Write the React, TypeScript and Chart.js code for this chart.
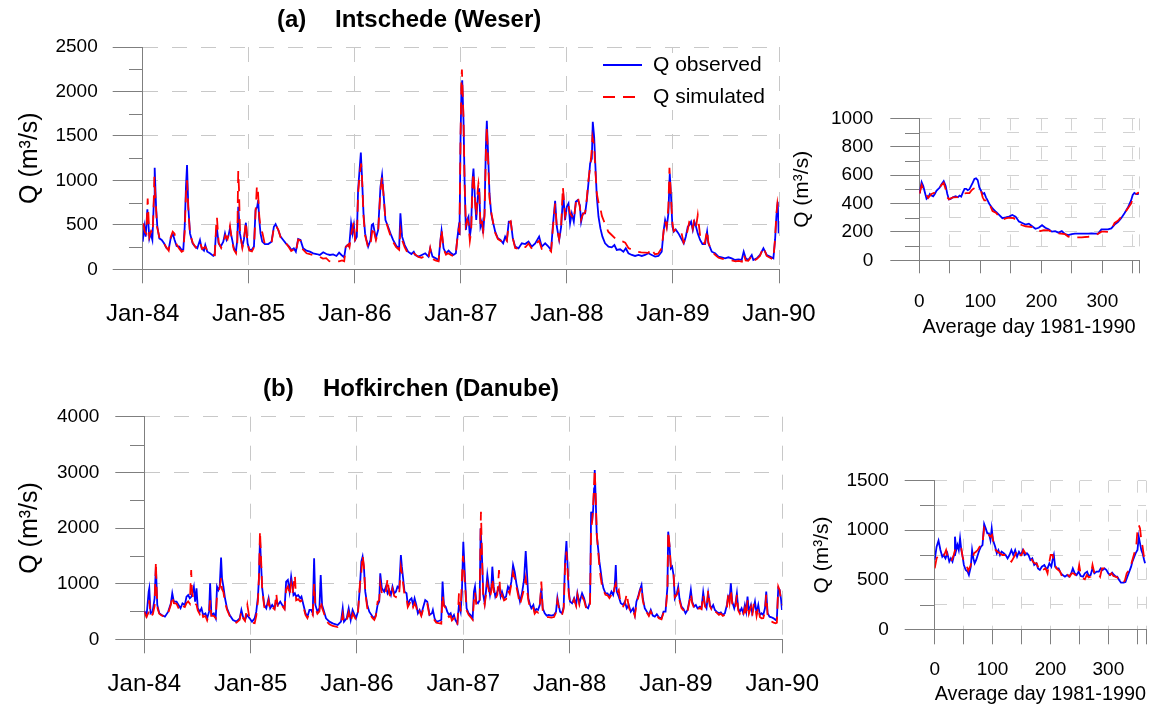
import React, { useEffect, useRef } from 'react';
import { Chart, registerables } from 'chart.js';

Chart.register(...registerables);

// ---------------- DATA ----------------
const yearLabels = ['Jan-84', 'Jan-85', 'Jan-86', 'Jan-87', 'Jan-88', 'Jan-89', 'Jan-90'];

// [years since Jan-84, discharge m3/s]
const weserObs: [number, number][] = [
  [0.000,310],[0.016,480],[0.028,367],[0.044,674],[0.063,348],[0.075,404],[0.091,330],[0.107,816],[0.113,1142],[0.126,704],[0.138,479],[0.157,348],[0.179,330],[0.201,292],[0.226,236],[0.245,225],[0.264,348],[0.283,404],[0.301,330],[0.320,262],[0.345,255],[0.367,217],[0.383,225],[0.396,479],[0.408,928],[0.418,1172],[0.430,704],[0.446,404],[0.471,292],[0.493,255],[0.515,236],[0.540,330],[0.556,236],[0.578,210],[0.590,273],[0.609,198],[0.634,180],[0.666,150],[0.678,161],[0.691,404],[0.700,460],[0.716,292],[0.735,255],[0.760,311],[0.776,404],[0.791,330],[0.807,367],[0.823,460],[0.841,348],[0.860,236],[0.879,198],[0.892,330],[0.901,704],[0.917,404],[0.939,255],[0.954,330],[0.973,524],[0.989,292],
  [1.005,225],[1.027,217],[1.049,255],[1.064,666],[1.080,704],[1.089,779],[1.099,554],[1.111,404],[1.127,311],[1.152,284],[1.184,284],[1.215,311],[1.237,479],[1.253,509],[1.278,442],[1.300,367],[1.325,330],[1.350,292],[1.381,255],[1.403,217],[1.425,236],[1.444,198],[1.466,341],[1.488,330],[1.513,236],[1.545,210],[1.576,198],[1.608,180],[1.639,172],[1.670,161],[1.702,191],[1.733,172],[1.765,161],[1.796,168],[1.827,150],[1.852,187],[1.874,161],[1.900,135],[1.915,255],[1.931,273],[1.947,255],[1.965,517],[1.978,404],[1.991,498],
  [2.003,330],[2.019,367],[2.031,891],[2.047,1153],[2.057,1314],[2.069,1003],[2.082,629],[2.097,404],[2.110,330],[2.126,255],[2.148,330],[2.160,498],[2.173,510],[2.198,348],[2.220,442],[2.242,928],[2.257,1059],[2.273,816],[2.289,554],[2.314,479],[2.336,404],[2.361,330],[2.392,262],[2.418,236],[2.430,629],[2.446,367],[2.471,273],[2.502,198],[2.534,172],[2.556,198],[2.570,161],[2.601,142],[2.632,161],[2.664,180],[2.695,142],[2.711,236],[2.733,142],[2.764,123],[2.790,105],[2.808,330],[2.818,434],[2.837,236],[2.859,180],[2.884,210],[2.909,180],[2.931,161],[2.953,180],[2.965,330],[2.978,460],[2.987,386],[2.997,1452],
  [3.006,2051],[3.013,2126],[3.025,1677],[3.035,1003],[3.047,442],[3.060,554],[3.072,591],[3.085,367],[3.097,479],[3.110,1003],[3.119,1134],[3.132,816],[3.145,554],[3.160,816],[3.173,910],[3.185,479],[3.198,535],[3.210,404],[3.223,629],[3.236,1377],[3.245,1669],[3.258,1265],[3.270,853],[3.286,629],[3.302,535],[3.324,423],[3.349,348],[3.374,330],[3.399,292],[3.418,367],[3.434,330],[3.452,535],[3.471,535],[3.490,348],[3.512,255],[3.544,236],[3.575,292],[3.606,284],[3.638,311],[3.669,255],[3.701,292],[3.738,367],[3.763,255],[3.795,292],[3.826,255],[3.851,217],[3.867,479],[3.889,771],[3.905,479],[3.927,330],[3.946,479],[3.965,853],[3.983,554],[3.999,704],
  [4.015,741],[4.030,517],[4.046,629],[4.065,535],[4.084,760],[4.103,779],[4.122,722],[4.134,535],[4.150,629],[4.172,629],[4.188,779],[4.203,966],[4.219,1190],[4.235,1246],[4.244,1658],[4.257,1490],[4.269,1153],[4.282,816],[4.298,591],[4.316,460],[4.335,367],[4.360,292],[4.392,255],[4.423,247],[4.448,273],[4.470,217],[4.502,225],[4.533,198],[4.555,236],[4.580,180],[4.612,161],[4.643,150],[4.675,161],[4.706,150],[4.737,161],[4.769,180],[4.800,161],[4.832,142],[4.863,150],[4.894,198],[4.913,442],[4.926,554],[4.942,479],[4.957,629],[4.970,1078],[4.982,816],[4.995,479],
  [5.008,423],[5.026,449],[5.052,404],[5.077,348],[5.102,292],[5.121,367],[5.140,479],[5.155,498],[5.171,535],[5.187,442],[5.202,535],[5.218,479],[5.234,404],[5.256,330],[5.278,284],[5.303,284],[5.322,423],[5.334,292],[5.366,198],[5.397,180],[5.429,142],[5.460,135],[5.491,123],[5.523,135],[5.554,123],[5.586,105],[5.617,112],[5.648,105],[5.667,198],[5.686,123],[5.711,105],[5.743,161],[5.758,105],[5.790,123],[5.821,161],[5.853,236],[5.884,161],[5.915,142],[5.947,123],[5.963,330],[5.975,591],[5.988,760],[5.997,404]
];

const weserSim: [number, number][] = [
  [0.005,516],[0.020,420],[0.035,400],[0.047,797],[0.063,367],[0.080,430],[0.094,400],[0.104,760],[0.110,1040],[0.122,760],[0.135,480],[0.157,360],[0.190,320],[0.220,250],[0.245,210],[0.264,360],[0.283,423],[0.300,400],[0.320,280],[0.345,230],[0.367,198],[0.383,210],[0.396,420],[0.408,850],[0.418,1000],[0.430,680],[0.446,400],[0.471,300],[0.500,245],[0.540,310],[0.560,230],[0.590,250],[0.620,190],[0.650,170],[0.680,160],[0.693,500],[0.700,584],[0.716,300],[0.740,240],[0.760,300],[0.780,380],[0.800,340],[0.823,487],[0.840,330],[0.860,220],[0.880,180],[0.892,300],[0.898,900],[0.901,1104],[0.908,900],[0.917,420],[0.940,240],[0.954,320],[0.973,535],[0.989,290],
  [1.005,210],[1.030,200],[1.050,250],[1.064,640],[1.077,940],[1.086,900],[1.099,600],[1.110,480],[1.130,404],[1.150,290],[1.180,285],[1.215,300],[1.237,470],[1.253,500],[1.280,440],[1.300,360],[1.330,310],[1.360,280],[1.380,245],[1.400,205],[1.425,225],[1.444,190],[1.466,335],[1.490,320],[1.510,225],[1.545,180],[1.576,170],[1.610,160],[1.640,150],[1.670,140],[1.700,120],[1.730,125],[1.760,90],[1.800,80],[1.830,86],[1.850,90],[1.880,100],[1.900,90],[1.915,250],[1.940,280],[1.950,250],[1.970,420],[1.990,535],
  [2.003,330],[2.020,360],[2.031,850],[2.047,1078],[2.060,1190],[2.069,1000],[2.082,600],[2.097,380],[2.110,320],[2.126,240],[2.150,300],[2.170,480],[2.200,330],[2.220,420],[2.242,880],[2.257,1040],[2.273,800],[2.289,560],[2.314,460],[2.336,380],[2.360,310],[2.390,250],[2.418,220],[2.430,442],[2.446,330],[2.470,250],[2.500,180],[2.530,160],[2.556,180],[2.600,140],[2.630,130],[2.660,150],[2.695,120],[2.711,236],[2.730,120],[2.760,100],[2.790,90],[2.808,310],[2.818,449],[2.837,230],[2.860,165],[2.880,180],[2.910,160],[2.930,150],[2.950,150],[2.965,320],[2.978,440],[2.987,420],[2.997,1500],
  [3.006,2150],[3.010,2246],[3.025,1700],[3.035,1000],[3.047,500],[3.060,560],[3.072,520],[3.085,320],[3.097,420],[3.110,950],[3.119,1085],[3.132,800],[3.145,600],[3.160,900],[3.166,966],[3.173,900],[3.185,500],[3.198,560],[3.210,430],[3.223,600],[3.236,1300],[3.245,1602],[3.258,1200],[3.270,800],[3.290,620],[3.320,420],[3.350,340],[3.374,320],[3.400,300],[3.418,350],[3.434,320],[3.452,520],[3.470,540],[3.490,350],[3.512,240],[3.544,230],[3.575,260],[3.610,250],[3.638,290],[3.670,230],[3.700,280],[3.738,320],[3.763,230],[3.800,240],[3.830,230],[3.851,200],[3.867,450],[3.889,740],[3.905,460],[3.927,340],[3.946,500],[3.962,928],[3.983,600],[3.999,680],
  [4.015,720],[4.030,629],[4.046,600],[4.065,560],[4.084,740],[4.103,816],[4.122,700],[4.134,560],[4.150,620],[4.172,640],[4.188,800],[4.203,1003],[4.219,1150],[4.235,1350],[4.241,1490],[4.257,1400],[4.269,1100],[4.282,853],[4.300,740],[4.310,722],[4.330,600],[4.345,554],[4.390,423],[4.410,400],[4.470,330],[4.500,320],[4.530,311],[4.550,300],[4.580,240],[4.640,205],[4.700,190],[4.770,185],[4.790,236],[4.830,170],[4.860,175],[4.894,236],[4.913,440],[4.926,540],[4.940,470],[4.957,700],[4.967,1142],[4.980,850],[4.995,520],
  [5.008,430],[5.030,450],[5.050,440],[5.077,430],[5.100,300],[5.121,350],[5.140,450],[5.155,540],[5.171,560],[5.187,460],[5.200,560],[5.218,480],[5.234,610],[5.256,380],[5.278,300],[5.300,290],[5.322,440],[5.334,300],[5.366,200],[5.400,160],[5.430,130],[5.460,120],[5.490,110],[5.520,110],[5.550,100],[5.590,90],[5.620,95],[5.650,85],[5.667,170],[5.686,100],[5.710,95],[5.743,150],[5.760,95],[5.790,115],[5.820,150],[5.853,250],[5.884,150],[5.915,130],[5.947,110],[5.963,350],[5.975,620],[5.985,741],[5.997,629]
];

const danubeObs: [number, number][] = [
  [0.000,510],[0.022,437],[0.041,856],[0.047,916],[0.059,467],[0.078,497],[0.097,737],[0.109,1300],[0.122,617],[0.141,467],[0.163,437],[0.194,407],[0.225,497],[0.250,647],[0.263,826],[0.278,677],[0.303,677],[0.322,617],[0.341,557],[0.359,647],[0.381,617],[0.397,767],[0.413,796],[0.428,737],[0.444,767],[0.466,946],[0.478,677],[0.491,916],[0.503,557],[0.522,497],[0.538,557],[0.553,437],[0.575,467],[0.591,377],[0.609,497],[0.619,1006],[0.631,437],[0.653,467],[0.672,377],[0.684,946],[0.697,886],[0.709,946],[0.722,1467],[0.731,1096],[0.744,946],[0.759,737],[0.778,557],[0.803,437],[0.834,347],[0.866,317],[0.897,377],[0.913,527],[0.928,407],[0.947,347],[0.966,437],[0.991,377],
  [1.013,317],[1.038,377],[1.053,497],[1.069,767],[1.078,1096],[1.088,1814],[1.097,1395],[1.109,916],[1.128,617],[1.147,557],[1.169,737],[1.184,557],[1.203,617],[1.225,557],[1.241,700],[1.256,617],[1.278,677],[1.297,617],[1.319,557],[1.334,1036],[1.350,1066],[1.366,856],[1.381,1126],[1.394,946],[1.403,796],[1.416,826],[1.428,767],[1.447,796],[1.466,737],[1.478,767],[1.497,617],[1.516,467],[1.534,407],[1.553,527],[1.569,527],[1.584,467],[1.597,1455],[1.609,617],[1.628,497],[1.647,557],[1.659,1156],[1.672,617],[1.691,497],[1.709,377],[1.741,317],[1.772,287],[1.819,257],[1.850,317],[1.866,557],[1.878,317],[1.903,377],[1.922,557],[1.941,347],[1.959,527],[1.978,437],[1.991,377],
  [2.009,497],[2.028,946],[2.041,1395],[2.053,1485],[2.066,1275],[2.078,856],[2.097,617],[2.116,497],[2.147,407],[2.163,377],[2.178,437],[2.194,617],[2.209,677],[2.219,1186],[2.234,916],[2.256,856],[2.272,946],[2.288,826],[2.303,886],[2.319,796],[2.334,946],[2.350,826],[2.366,856],[2.381,946],[2.397,916],[2.413,1515],[2.422,1305],[2.434,1096],[2.447,856],[2.466,826],[2.478,617],[2.497,707],[2.513,737],[2.528,617],[2.542,737],[2.558,617],[2.573,467],[2.589,527],[2.605,437],[2.620,557],[2.642,707],[2.661,677],[2.683,437],[2.705,467],[2.714,527],[2.730,377],[2.746,317],[2.768,329],[2.793,347],[2.805,1036],[2.818,617],[2.834,587],[2.849,497],[2.865,437],[2.881,467],[2.893,377],[2.912,437],[2.925,347],[2.944,287],[2.959,617],[2.975,497],[2.987,856],
  [3.000,1754],[3.009,1395],[3.019,976],[3.031,557],[3.050,467],[3.069,437],[3.088,377],[3.100,856],[3.110,946],[3.122,677],[3.138,647],[3.154,707],[3.163,1994],[3.176,1455],[3.188,796],[3.201,647],[3.213,856],[3.226,1156],[3.238,976],[3.251,796],[3.264,946],[3.273,1305],[3.286,946],[3.301,767],[3.320,856],[3.336,946],[3.351,767],[3.364,856],[3.383,737],[3.402,767],[3.420,946],[3.436,886],[3.452,1036],[3.468,1335],[3.483,1215],[3.499,1006],[3.515,856],[3.533,677],[3.552,826],[3.571,1066],[3.587,1587],[3.599,1186],[3.612,737],[3.628,617],[3.640,557],[3.659,617],[3.671,497],[3.687,545],[3.703,527],[3.719,617],[3.734,916],[3.747,557],[3.766,467],[3.784,425],[3.803,437],[3.828,425],[3.853,437],[3.872,497],[3.885,749],[3.897,617],[3.910,497],[3.929,467],[3.944,587],[3.957,1395],[3.970,1766],[3.979,1395],[3.992,856],
  [4.004,677],[4.023,647],[4.042,737],[4.061,617],[4.073,826],[4.092,647],[4.104,737],[4.117,826],[4.136,737],[4.155,587],[4.174,557],[4.192,677],[4.202,2293],[4.211,2114],[4.221,2323],[4.230,2713],[4.236,3042],[4.246,2473],[4.255,1874],[4.268,1635],[4.280,1395],[4.293,1215],[4.305,1036],[4.318,916],[4.337,826],[4.356,826],[4.374,767],[4.393,856],[4.409,796],[4.424,946],[4.434,1335],[4.443,856],[4.462,767],[4.481,647],[4.503,617],[4.519,677],[4.537,557],[4.556,617],[4.575,497],[4.597,557],[4.613,437],[4.628,677],[4.644,767],[4.660,886],[4.676,976],[4.688,737],[4.707,557],[4.726,497],[4.745,437],[4.763,527],[4.782,425],[4.801,407],[4.820,449],[4.839,395],[4.864,377],[4.883,497],[4.902,497],[4.920,946],[4.927,1934],[4.939,1695],[4.952,1275],[4.964,1305],[4.977,1156],[4.989,737],
  [5.008,826],[5.021,946],[5.033,737],[5.052,587],[5.071,545],[5.090,467],[5.109,527],[5.127,707],[5.140,886],[5.152,677],[5.171,587],[5.187,617],[5.203,557],[5.225,587],[5.240,557],[5.256,844],[5.272,617],[5.287,557],[5.303,826],[5.319,617],[5.334,557],[5.350,617],[5.366,527],[5.382,497],[5.404,467],[5.422,485],[5.441,437],[5.460,467],[5.479,617],[5.491,767],[5.504,707],[5.516,1006],[5.529,677],[5.548,557],[5.560,647],[5.573,826],[5.585,557],[5.601,497],[5.617,557],[5.633,467],[5.648,617],[5.661,497],[5.673,767],[5.686,497],[5.705,617],[5.717,467],[5.730,557],[5.743,677],[5.758,467],[5.774,617],[5.789,437],[5.805,467],[5.821,437],[5.837,557],[5.849,856],[5.862,467],[5.880,407],[5.899,395],[5.918,377],[5.937,347],[5.949,377],[5.962,916],[5.975,886],[5.987,737],[5.997,527]
];

const danubeSim: [number, number][] = [
  [0.000,500],[0.020,400],[0.040,480],[0.047,700],[0.060,420],[0.080,450],[0.097,600],[0.106,1200],[0.109,1400],[0.116,900],[0.125,550],[0.141,460],[0.163,430],[0.194,400],[0.225,480],[0.250,620],[0.263,780],[0.278,650],[0.303,640],[0.322,560],[0.341,520],[0.359,600],[0.381,580],[0.397,650],[0.413,680],[0.428,640],[0.441,1245],[0.447,900],[0.466,650],[0.478,640],[0.491,620],[0.503,520],[0.522,450],[0.538,520],[0.553,400],[0.575,420],[0.591,340],[0.609,460],[0.619,700],[0.631,420],[0.653,420],[0.672,380],[0.684,800],[0.697,870],[0.709,920],[0.722,1100],[0.731,900],[0.744,850],[0.759,660],[0.778,530],[0.803,420],[0.834,330],[0.866,300],[0.897,350],[0.913,500],[0.928,380],[0.947,330],[0.969,617],[0.991,350],
  [1.013,300],[1.038,290],[1.053,420],[1.069,700],[1.078,1100],[1.088,1952],[1.097,1500],[1.109,900],[1.128,580],[1.147,520],[1.169,700],[1.184,520],[1.203,580],[1.225,540],[1.241,826],[1.256,560],[1.278,620],[1.297,600],[1.319,540],[1.334,900],[1.350,950],[1.366,780],[1.381,1000],[1.394,820],[1.416,1156],[1.428,700],[1.447,720],[1.466,680],[1.478,700],[1.497,580],[1.516,440],[1.534,380],[1.553,480],[1.569,500],[1.584,440],[1.597,1000],[1.609,560],[1.628,460],[1.647,500],[1.659,700],[1.672,560],[1.691,460],[1.709,330],[1.741,270],[1.772,240],[1.819,220],[1.850,280],[1.866,450],[1.878,290],[1.903,330],[1.922,480],[1.941,310],[1.959,460],[1.978,400],[1.991,350],
  [2.009,460],[2.028,1000],[2.041,1200],[2.053,1515],[2.066,1300],[2.078,850],[2.097,560],[2.116,460],[2.147,380],[2.163,350],[2.178,420],[2.194,677],[2.209,700],[2.219,1000],[2.234,820],[2.256,780],[2.272,850],[2.288,1096],[2.303,820],[2.319,750],[2.334,900],[2.350,780],[2.366,760],[2.381,850],[2.397,820],[2.413,1300],[2.422,1200],[2.434,1000],[2.447,800],[2.466,760],[2.478,580],[2.497,650],[2.513,700],[2.528,580],[2.542,650],[2.558,580],[2.573,440],[2.589,500],[2.605,420],[2.620,520],[2.642,620],[2.661,640],[2.683,420],[2.705,440],[2.730,340],[2.746,300],[2.768,290],[2.793,280],[2.805,800],[2.818,600],[2.834,560],[2.849,460],[2.865,400],[2.881,420],[2.893,340],[2.912,380],[2.925,300],[2.944,250],[2.959,826],[2.975,500],[2.987,1100],
  [2.997,1500],[3.003,1400],[3.012,1100],[3.019,900],[3.031,520],[3.050,440],[3.069,400],[3.088,350],[3.100,700],[3.110,850],[3.122,620],[3.138,600],[3.154,680],[3.163,2000],[3.166,2293],[3.176,1500],[3.188,750],[3.201,620],[3.213,800],[3.226,1000],[3.238,900],[3.251,750],[3.264,880],[3.273,1100],[3.286,880],[3.301,720],[3.320,800],[3.336,1245],[3.351,720],[3.364,800],[3.383,700],[3.402,720],[3.420,880],[3.436,820],[3.452,1000],[3.468,1200],[3.483,1100],[3.499,950],[3.515,800],[3.533,620],[3.552,760],[3.571,900],[3.587,1100],[3.599,900],[3.612,700],[3.628,560],[3.640,520],[3.659,560],[3.671,460],[3.687,500],[3.703,480],[3.719,560],[3.734,1036],[3.747,520],[3.766,430],[3.784,400],[3.803,400],[3.828,390],[3.853,400],[3.872,480],[3.885,700],[3.897,580],[3.910,470],[3.929,440],[3.944,550],[3.957,1300],[3.970,1575],[3.979,1300],[3.992,820],
  [4.004,650],[4.023,620],[4.042,720],[4.061,600],[4.073,800],[4.092,620],[4.104,700],[4.117,760],[4.136,700],[4.155,560],[4.174,530],[4.192,640],[4.202,2000],[4.211,2100],[4.221,2400],[4.230,2800],[4.236,3060],[4.246,2500],[4.255,1900],[4.268,1600],[4.280,1300],[4.293,1100],[4.305,950],[4.318,880],[4.337,800],[4.356,790],[4.374,740],[4.393,800],[4.409,760],[4.424,946],[4.434,1000],[4.443,820],[4.462,886],[4.481,620],[4.503,590],[4.519,640],[4.537,826],[4.556,580],[4.575,480],[4.597,520],[4.613,420],[4.628,640],[4.644,740],[4.660,860],[4.676,946],[4.688,700],[4.707,540],[4.726,480],[4.745,420],[4.763,500],[4.782,420],[4.801,400],[4.820,430],[4.839,380],[4.864,360],[4.883,480],[4.902,480],[4.920,900],[4.927,1946],[4.939,1700],[4.952,1300],[4.964,1250],[4.977,1200],[4.989,760],
  [5.008,800],[5.021,880],[5.033,700],[5.052,560],[5.071,520],[5.090,450],[5.109,500],[5.127,680],[5.140,826],[5.152,650],[5.171,560],[5.187,600],[5.203,540],[5.225,560],[5.240,540],[5.256,800],[5.272,600],[5.287,540],[5.303,880],[5.319,600],[5.334,540],[5.350,580],[5.366,500],[5.382,480],[5.404,440],[5.422,460],[5.441,420],[5.460,440],[5.479,560],[5.491,826],[5.504,660],[5.516,900],[5.529,640],[5.548,540],[5.560,600],[5.573,800],[5.585,520],[5.601,460],[5.617,520],[5.633,440],[5.648,560],[5.661,420],[5.673,700],[5.686,460],[5.705,580],[5.717,420],[5.730,620],[5.743,640],[5.758,420],[5.774,580],[5.789,400],[5.805,377],[5.821,380],[5.837,500],[5.849,800],[5.862,420],[5.880,340],[5.899,320],[5.918,300],[5.937,287],[5.949,300],[5.962,946],[5.975,880],[5.987,700],[5.997,620]
];

// [average day of year, discharge m3/s]
const weserAvgObs: [number, number][] = [
  [0,478],[1.1,490],[3.8,551],[6.5,524],[9.2,478],[11.9,433],[14.6,444],[17.3,467],[20.0,456],[22.7,451],[25.4,467],[28.1,490],[30.8,501],[33.5,513],[36.2,535],[40.0,558],[43.2,524],[45.9,467],[48.6,429],[51.4,433],[55.1,444],[59.5,451],[63.2,444],[65.9,456],[68.6,449],[71.4,478],[74.1,504],[76.8,504],[79.5,494],[82.2,501],[84.9,524],[87.6,547],[90.3,574],[93.0,578],[95.7,565],[98.4,513],[101.1,490],[103.8,467],[106.5,474],[109.2,444],[111.9,422],[114.6,399],[120.0,365],[125.4,342],[130.8,320],[136.2,297],[141.6,302],[147.0,308],[152.4,320],[157.8,308],[163.2,274],[168.6,263],[174.1,252],[179.5,258],[184.9,240],[190.3,222],[195.7,229],[201.1,247],[206.5,229],[211.9,218],[217.3,202],[222.7,206],[228.1,195],[233.5,206],[238.9,184],[244.3,177],[249.7,184],[255.1,188],[260.5,188],[265.9,188],[271.4,188],[276.8,188],[282.2,190],[287.6,188],[293.0,188],[298.4,218],[303.8,218],[309.2,218],[314.6,225],[320.0,252],[325.4,270],[330.8,297],[336.2,331],[341.6,370],[347.0,422],[349.7,460],[352.4,474],[355.1,467],[357.8,467],[360,470]
];
const weserAvgSim: [number, number][] = [
  [0.5,470],[3.8,530],[7.6,490],[10.8,470],[14.6,440],[20.0,467],[25.4,478],[30.8,495],[36.2,530],[40.0,545],[43.2,500],[45.9,444],[48.6,430],[55.1,444],[63.2,445],[68.6,450],[71.4,467],[76.8,474],[82.2,474],[86.0,495],[88.6,504],[93.0,513],[98.4,497],[101.1,490],[103.8,444],[106.5,422],[109.2,422],[111.9,425],[120.0,347],[125.4,335],[130.8,308],[136.2,286],[141.6,295],[147.0,300],[155.1,297],[160.5,263],[168.6,247],[174.1,240],[184.9,234],[190.3,218],[198.4,206],[203.8,213],[211.9,211],[217.3,200],[228.1,190],[238.9,184],[244.3,166],[249.7,172],[257.8,161],[265.9,161],[276.8,166],[287.6,172],[298.4,202],[303.8,202],[309.2,200],[314.6,215],[320.0,263],[325.4,278],[336.2,331],[341.6,365],[347.0,399],[349.7,433],[352.4,460],[357.8,474],[360,478]
];
const danubeAvgObs: [number, number][] = [
  [0,700],[3.3,834],[6.6,895],[9.9,800],[13.1,733],[15.3,750],[18.6,716],[21.9,767],[25.2,683],[27.9,716],[30.7,683],[33.4,750],[35.0,935],[37.2,800],[39.4,851],[41.6,800],[43.8,918],[46.0,800],[48.2,733],[50.4,649],[53.6,599],[56.9,582],[59.1,548],[62.4,632],[64.6,800],[66.8,716],[69.0,666],[71.7,700],[74.4,750],[77.2,800],[79.9,834],[82.6,851],[85.4,1063],[88.1,1019],[90.9,969],[93.6,969],[96.3,901],[98.5,1019],[100.7,901],[104.5,834],[107.3,767],[110.0,800],[112.8,750],[115.5,783],[119.3,767],[122.6,750],[125.9,716],[129.2,750],[132.5,800],[135.7,750],[139.0,800],[142.3,733],[145.6,783],[148.9,750],[152.2,800],[155.4,750],[159.3,767],[162.0,750],[165.3,700],[168.6,716],[171.9,649],[175.7,666],[178.4,615],[181.7,599],[185.0,632],[189.4,649],[192.7,615],[194.9,615],[198.1,666],[201.4,632],[203.6,700],[205.8,750],[208.0,632],[211.3,615],[214.0,615],[217.8,565],[221.1,548],[225.0,531],[228.8,548],[232.1,531],[235.9,565],[238.6,615],[241.9,565],[245.2,548],[248.5,582],[252.3,538],[256.2,531],[259.4,565],[263.3,582],[266.0,538],[269.3,548],[272.6,615],[275.9,565],[279.7,582],[283.5,582],[286.8,615],[290.1,599],[293.4,615],[296.7,599],[299.9,565],[303.2,548],[306.5,572],[309.8,548],[313.1,531],[315.3,531],[318.6,498],[321.8,471],[326.2,471],[329.5,477],[332.8,531],[336.1,582],[339.3,632],[341.5,683],[344.8,733],[347.0,767],[350.3,800],[352.5,935],[354.7,868],[356.9,800],[359.1,767],[361.8,700],[363.4,666]
];
const danubeAvgSim: [number, number][] = [
  [0,616],[3.3,716],[6.6,750],[9.9,750],[13.1,733],[16.4,750],[19.7,800],[23.0,716],[26.3,683],[29.6,700],[32.8,750],[36.1,817],[39.4,817],[42.7,834],[46.0,817],[48.2,733],[51.4,666],[54.7,649],[58.0,592],[61.3,632],[64.6,700],[67.9,767],[71.2,783],[74.4,800],[77.7,834],[81.0,834],[83.2,901],[85.4,1019],[88.1,986],[90.9,986],[93.6,952],[96.3,935],[99.1,952],[101.8,868],[105.1,800],[108.4,783],[112.8,767],[117.1,750],[121.5,750],[125.9,733],[129.2,700],[132.5,683],[135.7,716],[139.0,750],[142.3,800],[145.6,750],[150.0,750],[153.3,800],[156.5,767],[159.8,767],[163.1,733],[166.4,716],[169.7,683],[173.0,666],[176.2,666],[179.5,615],[182.8,615],[186.1,632],[188.3,605],[191.6,615],[194.9,565],[197.6,666],[200.3,750],[203.6,750],[206.9,666],[210.2,615],[213.5,599],[216.7,582],[220.0,531],[223.3,548],[226.6,531],[229.9,548],[233.2,531],[236.5,565],[239.7,565],[243.0,548],[246.3,531],[249.6,649],[252.9,531],[256.2,514],[259.4,504],[262.7,548],[266.0,524],[269.3,531],[272.6,649],[275.9,565],[279.1,548],[282.4,565],[285.7,531],[289.0,615],[292.3,615],[295.6,582],[298.8,572],[302.1,548],[305.4,565],[308.7,538],[312.0,531],[315.3,524],[318.6,498],[321.8,471],[325.1,471],[328.4,491],[331.7,565],[335.0,592],[338.3,632],[341.5,700],[344.8,767],[348.1,834],[350.3,1002],[352.5,1053],[354.7,1019],[356.9,901],[359.1,834],[361.8,716],[363.4,683]
];

const seriesNames = ['Q observed', 'Q simulated'];
const yTitle = 'Q (m\u00b3/s)';
const avgTitle = 'Average day 1981-1990';

// ---------------- STYLE ----------------
const FONT = '"Liberation Sans", Arial, Helvetica, sans-serif';
const AXIS = '#7f7f7f';
const GRID = '#c8c8c8';
const GRID_SMALL = '#d2d2d2';
const CLEAR = 'rgba(0,0,0,0)';
const BLUE = '#0000ff';
const RED = '#ff0000';

Chart.defaults.font.family = FONT;
Chart.defaults.color = '#000';

const minorTickPlugin = {
  id: 'minorTicks',
  afterDraw(chart: any, _args: any, opts: any) {
    if (!opts || !opts.len) return;
    const ys = chart.scales.y;
    const ctx = chart.ctx;
    const left = Math.round(chart.chartArea.left);
    ctx.save();
    ctx.strokeStyle = AXIS;
    ctx.lineWidth = 1;
    ys.ticks.forEach((t: any) => {
      if (Math.abs(t.value % opts.major) > 1e-6) {
        const py = Math.round(ys.getPixelForValue(t.value)) + 0.5;
        ctx.beginPath();
        ctx.moveTo(left - opts.len, py);
        ctx.lineTo(left, py);
        ctx.stroke();
      }
    });
    ctx.restore();
  },
};

const legendPlugin = {
  id: 'qLegend',
  beforeDatasetsDraw(chart: any, _args: any, opts: any) {
    if (!opts || !opts.show) return;
    const ctx = chart.ctx;
    ctx.save();
    ctx.fillStyle = '#ffffff';
    ctx.fillRect(opts.box[0], opts.box[1], opts.box[2], opts.box[3]);
    chart.data.datasets.forEach((ds: any, i: number) => {
      const y = opts.rows[i];
      ctx.strokeStyle = ds.borderColor;
      ctx.lineWidth = 2;
      ctx.setLineDash(ds.borderDash || []);
      ctx.beginPath();
      ctx.moveTo(opts.lineX[0], y);
      ctx.lineTo(opts.lineX[1], y);
      ctx.stroke();
      ctx.setLineDash([]);
      ctx.fillStyle = '#000';
      ctx.font = `${opts.fontSize}px ${FONT}`;
      ctx.textBaseline = 'middle';
      ctx.textAlign = 'left';
      ctx.fillText(ds.label, opts.textX, y);
    });
    ctx.restore();
  },
};

type Spec = {
  left: number; top: number; width: number; height: number;
  area: { left: number; top: number; right: number; bottom: number };
  obs: [number, number][]; sim: [number, number][];
  xMax: number; xStep: number; xLabel: (v: number) => string; xFont: number; xTickLen: number; xPad: number;
  xTitle?: string; xTitlePad?: number; xGridColor: string;
  yMax: number; yStep: number; yMajor: number; yFont: number; yTickLen: number; yPad: number; yMinorLen: number;
  yGrid: (v: number) => boolean; yGridColor: string; yTitleFont: number; yTitlePad: number;
  gridDash: number[];
  legend?: any;
};

function build(canvas: HTMLCanvasElement, s: Spec) {
  return new Chart(canvas, {
    type: 'line',
    data: {
      datasets: [
        {
          label: seriesNames[0],
          data: s.obs.map(([x, y]) => ({ x, y })),
          borderColor: BLUE,
          backgroundColor: BLUE,
          borderWidth: 1.8,
          pointRadius: 0,
          tension: 0,
          order: 1,
        },
        {
          label: seriesNames[1],
          data: s.sim.map(([x, y]) => ({ x, y })),
          borderColor: RED,
          backgroundColor: RED,
          borderWidth: 1.8,
          borderDash: [12, 8],
          pointRadius: 0,
          tension: 0,
          order: 0,
        },
      ],
    },
    options: {
      responsive: false,
      animation: false,
      events: [],
      layout: { padding: { left: 0, top: s.area.top, right: s.width - s.area.right, bottom: 0 } },
      plugins: {
        legend: { display: false },
        tooltip: { enabled: false },
        minorTicks: { len: s.yMinorLen, major: s.yMajor },
        qLegend: s.legend || { show: false },
      } as any,
      scales: {
        x: {
          type: 'linear',
          min: 0,
          max: s.xMax,
          bounds: 'data',
          afterFit: (sc: any) => { sc.height = s.height - s.area.bottom; },
          ticks: {
            stepSize: s.xStep,
            autoSkip: false,
            maxRotation: 0,
            minRotation: 0,
            includeBounds: false,
            font: { size: s.xFont },
            color: '#000',
            padding: s.xPad,
            callback: (v: any) => s.xLabel(Number(v)),
          },
          grid: {
            color: (c: any) => (c.tick && c.tick.value > 0 ? s.xGridColor : CLEAR),
            tickColor: AXIS,
            tickLength: s.xTickLen,
            lineWidth: 1,
          },
          border: { display: true, color: AXIS, width: 1, dash: s.gridDash },
          title: s.xTitle
            ? { display: true, text: s.xTitle, font: { size: 20 }, color: '#000', padding: { top: 0, bottom: s.xTitlePad || 0 } }
            : { display: false },
        },
        y: {
          type: 'linear',
          min: 0,
          max: s.yMax,
          bounds: 'data',
          afterFit: (sc: any) => { sc.width = s.area.left; },
          ticks: {
            stepSize: s.yStep,
            autoSkip: false,
            includeBounds: false,
            font: { size: s.yFont },
            color: '#000',
            padding: s.yPad,
            callback: (v: any) => (Number(v) % s.yMajor === 0 ? String(v) : ''),
          },
          grid: {
            color: (c: any) => (c.tick && c.tick.value > 0 && s.yGrid(c.tick.value) ? s.yGridColor : CLEAR),
            tickColor: (c: any) => (c.tick && c.tick.value % s.yMajor === 0 ? AXIS : CLEAR),
            tickLength: s.yTickLen,
            lineWidth: 1,
          },
          border: { display: true, color: AXIS, width: 1, dash: s.gridDash },
          title: { display: true, text: yTitle, font: { size: s.yTitleFont }, color: '#000', padding: { top: s.yTitlePad, bottom: 0 } },
        },
      } as any,
    },
    plugins: [minorTickPlugin, legendPlugin],
  } as any);
}

const mainX = (v: number) => yearLabels[Math.round(v)] || '';
const avgX = (v: number) => (v % 100 === 0 ? String(v) : '');

const specs: Spec[] = [
  {
    left: 0, top: 0, width: 840, height: 340,
    area: { left: 142.7, top: 47, right: 779, bottom: 269.3 },
    obs: weserObs, sim: weserSim,
    xMax: 6, xStep: 1, xLabel: mainX, xFont: 24, xTickLen: 14, xPad: 17, xGridColor: GRID,
    yMax: 2500, yStep: 250, yMajor: 500, yFont: 19, yTickLen: 30, yPad: 15, yMinorLen: 14,
    yGrid: (v) => v % 500 === 0, yGridColor: GRID, yTitleFont: 25, yTitlePad: 15,
    gridDash: [15, 14],
    legend: { show: true, box: [597, 53, 176, 57], rows: [65, 97], lineX: [603, 642], textX: 653, fontSize: 21 },
  },
  {
    left: 780, top: 90, width: 376, height: 260,
    area: { left: 139.3, top: 23.3, right: 361.3, bottom: 170.3 },
    obs: weserAvgObs, sim: weserAvgSim,
    xMax: 360, xStep: 50, xLabel: avgX, xFont: 19, xTickLen: 13, xPad: 17, xTitle: avgTitle, xTitlePad: 11, xGridColor: GRID_SMALL,
    yMax: 1000, yStep: 100, yMajor: 200, yFont: 19, yTickLen: 29, yPad: 17, yMinorLen: 14,
    yGrid: () => true, yGridColor: GRID_SMALL, yTitleFont: 21, yTitlePad: 10,
    gridDash: [12, 17],
  },
  {
    left: 0, top: 370, width: 840, height: 337,
    area: { left: 144.3, top: 46.7, right: 782.3, bottom: 269.3 },
    obs: danubeObs, sim: danubeSim,
    xMax: 6, xStep: 1, xLabel: mainX, xFont: 24, xTickLen: 14, xPad: 17, xGridColor: GRID,
    yMax: 4000, yStep: 500, yMajor: 1000, yFont: 19, yTickLen: 29, yPad: 16, yMinorLen: 14,
    yGrid: (v) => v % 1000 === 0 && v !== 2000, yGridColor: GRID, yTitleFont: 25, yTitlePad: 15,
    gridDash: [15, 14],
  },
  {
    left: 800, top: 440, width: 360, height: 267,
    area: { left: 134.7, top: 40.7, right: 356.9, bottom: 189.3 },
    obs: danubeAvgObs, sim: danubeAvgSim,
    xMax: 365, xStep: 50, xLabel: avgX, xFont: 19, xTickLen: 15, xPad: 14, xTitle: avgTitle, xTitlePad: 1, xGridColor: GRID_SMALL,
    yMax: 1500, yStep: 250, yMajor: 500, yFont: 19, yTickLen: 30, yPad: 16, yMinorLen: 15,
    yGrid: () => true, yGridColor: GRID_SMALL, yTitleFont: 21, yTitlePad: 10,
    gridDash: [12, 17],
  },
];

function Panel({ spec }: { spec: Spec }) {
  const ref = useRef<HTMLCanvasElement | null>(null);
  useEffect(() => {
    if (!ref.current) return;
    const chart = build(ref.current, spec);
    return () => chart.destroy();
  }, [spec]);
  return (
    <canvas
      ref={ref}
      width={spec.width}
      height={spec.height}
      style={{ position: 'absolute', left: spec.left, top: spec.top, width: spec.width, height: spec.height }}
    />
  );
}

const titleStyle: React.CSSProperties = {
  position: 'absolute',
  fontFamily: FONT,
  fontWeight: 'bold',
  fontSize: 24,
  lineHeight: '28px',
  whiteSpace: 'pre',
  color: '#000',
};

export default function App() {
  return (
    <div style={{ position: 'absolute', left: 0, top: 0, width: 1156, height: 707, overflow: 'hidden', background: '#fff' }}>
      {specs.map((s, i) => (
        <Panel key={i} spec={s} />
      ))}
      <div style={{ ...titleStyle, left: 277, top: 5 }}>(a)</div>
      <div style={{ ...titleStyle, left: 335, top: 5 }}>Intschede (Weser)</div>
      <div style={{ ...titleStyle, left: 263, top: 374 }}>(b)</div>
      <div style={{ ...titleStyle, left: 323, top: 374 }}>Hofkirchen (Danube)</div>
    </div>
  );
}
